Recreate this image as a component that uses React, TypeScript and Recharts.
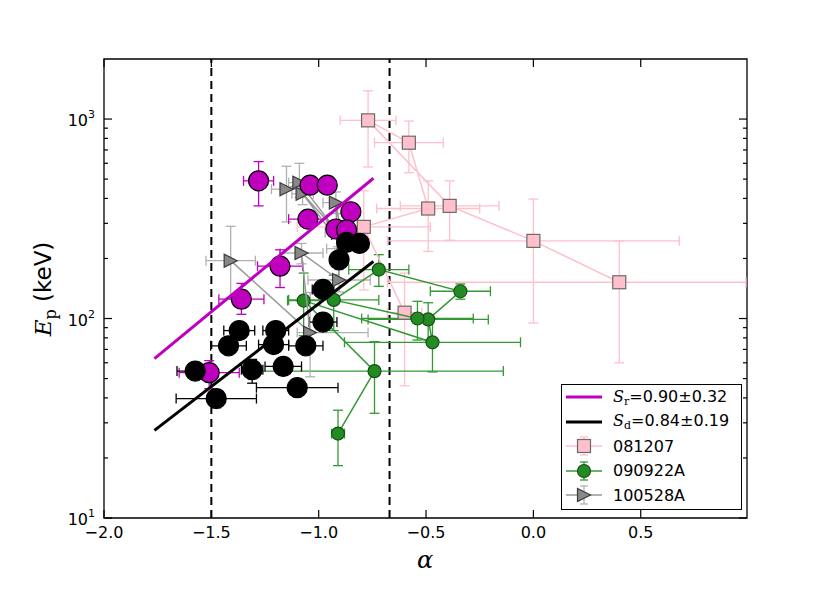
import React from "react";
import {
  ScatterChart,
  Scatter,
  XAxis,
  YAxis,
  ErrorBar,
  ReferenceLine,
  ReferenceArea,
  Legend,
  Label,
} from "recharts";

// GRB 081207 (pink squares), time order
const grb081207Alpha = [-0.6, -0.79, -0.49, -0.58, -0.77, -0.39, 0.0, 0.4];
// last bar runs past the right spine, so it stops at the frame
const grb081207AlphaErr = [0.08, 0.31, 0.24, 0.16, 0.13, 0.23, 0.68, [1.08, 0.59]];
const grb081207Ep = [107, 288, 356, 761, 985, 367, 245, 152];
const grb081207EpErr = [[61, 62], [149, 149], [139, 134], [223, 216], [410, 400], [120, 123], [150, 152], [92, 93]];

// GRB 090922A (green circles)
const grb090922Alpha = [-0.91, -0.74, -1.07, -0.47, -0.49, -0.34, -0.72, -0.93, -0.54];
const grb090922AlphaErr = [0.03, 0.6, 0.075, 0.41, 0.28, 0.14, 0.14, 0.21, 0.26];
const grb090922Ep = [26.5, 54.5, 123, 76, 99, 137, 176, 124, 100];
const grb090922EpErr = [[8.2, 8.2], [21, 22], [41, 46], [22, 24], [21, 21], [12, 12], [31, 33], [37, 41], [22, 22]];

// GRB 100528A (gray triangles)
const grb100528Alpha = [-1.15, -1.09, -0.91, -1.075, -0.883, -0.92, -0.905, -1.08, -1.04, -1.41];
const grb100528AlphaErr = [0.07, 0.05, 0.06, 0.05, 0.08, 0.06, 0.145, 0.1, [0.06, 0.27], 0.115];
const grb100528Ep = [445, 480, 269, 422, 224, 381, 156, 213, 85, 195];
const grb100528EpErr = [[140, 135], [75, 120], [40, 40], [50, 60], [30, 30], [45, 50], [20, 20], [25, 25], [34, 50], [68, 95]];

// S_r sample (magenta)
const srAlpha = [-1.28, -1.04, -0.96, -0.85, -1.05, -0.92, -0.87, -1.18, -1.36, -1.51];
const srAlphaErr = [0.07, 0.04, 0.04, 0.04, 0.09, 0.04, 0.04, 0.105, 0.105, 0.14];
const srEp = [490, 466, 466, 343, 315, 281, 278, 183, 125, 53.5];
const srEpErr = [[123, 122], [40, 40], [40, 40], [30, 30], [30, 30], [25, 25], [25, 25], [40, 38], [20, 25], [9, 8]];

// S_d sample (black)
const sdAlpha = [-0.87, -0.81, -0.905, -0.98, -0.98, -1.37, -1.2, -1.42, -1.21, -1.06, -1.575, -1.31, -1.165, -1.1, -1.477];
const sdAlphaErr = [0.04, 0.04, 0.04, 0.05, 0.065, 0.072, 0.06, 0.083, 0.07, 0.08, 0.085, 0.05, 0.085, 0.19, 0.187];
const sdEp = [241, 238, 197, 140, 96, 87, 87, 73, 74, 73, 54.5, 55.4, 57.5, 45, 39.7];
const sdEpErr = [[20, 20], [20, 20], [15, 15], [12, 12], [8, 8], [7, 7], [7, 7], [6, 6], [6, 6], [6, 6], [5, 5], [8, 7], [5, 5], [4, 4], [4, 4]];

// fitted relations
const srFitAlpha = [-1.765, -0.745];
const srFitEp = [63, 505];
const sdFitAlpha = [-1.765, -0.745];
const sdFitEp = [27.5, 193];

const limitAlpha = [-1.5, -0.67];
const xTicks = [-2, -1.5, -1, -0.5, 0, 0.5];
const yMajorTicks = [10, 100, 1000];
const yMinorTicks = [20, 30, 40, 50, 60, 70, 80, 90, 200, 300, 400, 500, 600, 700, 800, 900];
const X_DOMAIN = [-2, 0.995];
const Y_DOMAIN = [10, 2000];

const PLOT_W = 643;
const PLOT_H = 459;
const SANS = "DejaVu Sans";
const SERIF = "DejaVu Serif";

const points = (xs: number[], xe: any[], ys: number[], ye: any[]) =>
  xs.map((x, i) => ({ x, y: ys[i], ex: xe ? xe[i] : 0, ey: ye ? ye[i] : 0 }));

const pinkData = points(grb081207Alpha, grb081207AlphaErr, grb081207Ep, grb081207EpErr);
const greenData = points(grb090922Alpha, grb090922AlphaErr, grb090922Ep, grb090922EpErr);
const grayData = points(grb100528Alpha, grb100528AlphaErr, grb100528Ep, grb100528EpErr);
const srData = points(srAlpha, srAlphaErr, srEp, srEpErr);
const sdData = points(sdAlpha, sdAlphaErr, sdEp, sdEpErr);
const srFit = srFitAlpha.map((x, i) => ({ x, y: srFitEp[i] }));
const sdFit = sdFitAlpha.map((x, i) => ({ x, y: sdFitEp[i] }));

const MAGENTA = "#bf00bf";
const PINK = "#ffc0cb";
const GREEN_LINE = "#339933";
const GREEN_FILL = "#228b22";
const GRAY_LINE = "#999999";
const GRAY_ERR = "#b0b0b0";

const Circle = (r: number, fill: string, stroke: string) => (p: any) =>
  <circle cx={p.cx} cy={p.cy} r={r} fill={fill} stroke={stroke} strokeWidth={1.2} />;

const Square = (p: any) =>
  <rect x={p.cx - 6.5} y={p.cy - 6.5} width={13} height={13} fill={PINK} stroke="#6a6a6a" strokeWidth={1.2} />;

const TriRight = (p: any) =>
  <polygon
    points={`${p.cx + 6.5},${p.cy} ${p.cx - 6.5},${p.cy - 6.5} ${p.cx - 6.5},${p.cy + 6.5}`}
    fill="#888888"
    stroke="#3a3a3a"
    strokeWidth={1.2}
  />;

const NoShape = () => <g />;

function AlphaTick({ x, y, payload }: any) {
  const v = payload.value;
  const text = (v < 0 ? "\u2212" : "") + Math.abs(v).toFixed(1);
  return (
    <g>
      <line x1={x} y1={y} x2={x} y2={y - 8} stroke="#000" strokeWidth={1.2} />
      <line x1={x} y1={y - PLOT_H} x2={x} y2={y - PLOT_H + 8} stroke="#000" strokeWidth={1.2} />
      <text x={x} y={y + 20} textAnchor="middle" fontFamily={SANS} fontSize={16} fill="#000">
        {text}
      </text>
    </g>
  );
}

function EpTick({ x, y, payload }: any) {
  const v = payload.value;
  const major = yMajorTicks.includes(v);
  const len = major ? 8 : 4;
  return (
    <g>
      <line x1={x} y1={y} x2={x + len} y2={y} stroke="#000" strokeWidth={1.2} />
      <line x1={x + PLOT_W} y1={y} x2={x + PLOT_W - len} y2={y} stroke="#000" strokeWidth={1.2} />
      {major && (
        <text x={x - 9} y={y + 7} textAnchor="end" fontFamily={SANS} fontSize={16} fill="#000">
          10
          <tspan dy={-8} fontSize={11}>
            {Math.round(Math.log10(v))}
          </tspan>
        </text>
      )}
    </g>
  );
}

const YLabel = () => (
  <text transform="translate(51,289) rotate(-90)" textAnchor="middle" fill="#000" fontSize={23} fontFamily={SANS}>
    <tspan fontFamily={SERIF} fontStyle="italic">E</tspan>
    <tspan fontFamily={SERIF} fontSize={16} dy={5}>p</tspan>
    <tspan dy={-5}> (keV)</tspan>
  </text>
);

const XLabel = () => (
  <text x={425} y={568} textAnchor="middle" fill="#000" fontSize={24} fontFamily={SERIF} fontStyle="italic">
    α
  </text>
);

function LegendIcon({ kind }: { kind: string }) {
  if (kind === "sr" || kind === "sd") {
    return (
      <svg width={36} height={24}>
        <line x1={0} y1={12} x2={36} y2={12} stroke={kind === "sr" ? MAGENTA : "#000"} strokeWidth={3} />
      </svg>
    );
  }
  const line = kind === "pink" ? PINK : kind === "green" ? GREEN_LINE : GRAY_LINE;
  const err = kind === "pink" ? PINK : kind === "green" ? GREEN_LINE : GRAY_ERR;
  return (
    <svg width={36} height={24}>
      <line x1={0} y1={12} x2={36} y2={12} stroke={line} strokeWidth={1.5} />
      <line x1={18} y1={3} x2={18} y2={21} stroke={err} strokeWidth={1.3} />
      <line x1={14} y1={3} x2={22} y2={3} stroke={err} strokeWidth={1.3} />
      <line x1={14} y1={21} x2={22} y2={21} stroke={err} strokeWidth={1.3} />
      {kind === "pink" && <Square cx={18} cy={12} />}
      {kind === "green" && Circle(6.5, GREEN_FILL, "#1b4d1b")({ cx: 18, cy: 12 })}
      {kind === "gray" && <TriRight cx={18} cy={12} />}
    </svg>
  );
}

const legendRows = [
  { kind: "sr", sym: "S", sub: "r", text: "=0.90\u00b10.32" },
  { kind: "sd", sym: "S", sub: "d", text: "=0.84\u00b10.19" },
  { kind: "pink", text: "081207" },
  { kind: "green", text: "090922A" },
  { kind: "gray", text: "100528A" },
];

const LegendBox = () => (
  <div
    style={{
      width: 181,
      height: 126,
      boxSizing: "border-box",
      border: "1.3px solid #000",
      background: "#fff",
      fontFamily: SANS,
      fontSize: 16,
      color: "#000",
      paddingLeft: 4,
    }}
  >
    {legendRows.map((r) => (
      <div key={r.kind} style={{ height: 24.5, display: "flex", alignItems: "center" }}>
        <LegendIcon kind={r.kind} />
        <span style={{ marginLeft: 11, whiteSpace: "nowrap" }}>
          {r.sym && <span style={{ fontFamily: SERIF, fontStyle: "italic" }}>{r.sym}</span>}
          {r.sub && <sub style={{ fontFamily: SERIF, fontSize: 11, verticalAlign: "-3px" }}>{r.sub}</sub>}
          {r.text}
        </span>
      </div>
    ))}
  </div>
);

export default function App() {
  return (
    <div style={{ position: "absolute", left: 0, top: 0, width: 830, height: 593, background: "#fff" }}>
      <ScatterChart width={830} height={593} margin={{ top: 59, right: 83, bottom: 45, left: 44 }}>
        <XAxis
          type="number"
          dataKey="x"
          domain={X_DOMAIN}
          allowDataOverflow
          ticks={xTicks}
          interval={0}
          tickSize={0}
          tickMargin={0}
          height={30}
          axisLine={false}
          tick={AlphaTick}
        >
          <Label content={XLabel} />
        </XAxis>
        <YAxis
          type="number"
          dataKey="y"
          scale="log"
          domain={Y_DOMAIN}
          allowDataOverflow
          ticks={[...yMajorTicks, ...yMinorTicks]}
          interval={0}
          tickSize={0}
          tickMargin={0}
          width={60}
          axisLine={false}
          tick={EpTick}
        >
          <Label content={YLabel} />
        </YAxis>
        {limitAlpha.map((a) => (
          <ReferenceLine key={a} x={a} stroke="#000" strokeWidth={2} strokeDasharray="8 5" />
        ))}

        <Scatter data={pinkData} line={{ stroke: PINK, strokeWidth: 1.5 }} shape={Square} isAnimationActive={false}>
          <ErrorBar dataKey="ex" direction="x" width={5} stroke={PINK} strokeWidth={1.3} />
          <ErrorBar dataKey="ey" direction="y" width={5} stroke={PINK} strokeWidth={1.3} />
        </Scatter>
        <Scatter data={greenData} line={{ stroke: GREEN_LINE, strokeWidth: 1.5 }} shape={Circle(6.5, GREEN_FILL, "#1b4d1b")} isAnimationActive={false}>
          <ErrorBar dataKey="ex" direction="x" width={5} stroke={GREEN_LINE} strokeWidth={1.3} />
          <ErrorBar dataKey="ey" direction="y" width={5} stroke={GREEN_LINE} strokeWidth={1.3} />
        </Scatter>
        <Scatter data={grayData} line={{ stroke: GRAY_LINE, strokeWidth: 1.5 }} shape={TriRight} isAnimationActive={false}>
          <ErrorBar dataKey="ex" direction="x" width={5} stroke={GRAY_ERR} strokeWidth={1.3} />
          <ErrorBar dataKey="ey" direction="y" width={5} stroke={GRAY_ERR} strokeWidth={1.3} />
        </Scatter>
        <Scatter data={srData} shape={Circle(10, MAGENTA, "#000")} isAnimationActive={false}>
          <ErrorBar dataKey="ex" direction="x" width={5} stroke={MAGENTA} strokeWidth={1.3} />
          <ErrorBar dataKey="ey" direction="y" width={5} stroke={MAGENTA} strokeWidth={1.3} />
        </Scatter>
        <Scatter data={sdData} shape={Circle(10, "#000", "#000")} isAnimationActive={false}>
          <ErrorBar dataKey="ex" direction="x" width={5} stroke="#000" strokeWidth={1.3} />
          <ErrorBar dataKey="ey" direction="y" width={5} stroke="#000" strokeWidth={1.3} />
        </Scatter>
        <Scatter data={srFit} line={{ stroke: MAGENTA, strokeWidth: 3 }} shape={NoShape} isAnimationActive={false} />
        <Scatter data={sdFit} line={{ stroke: "#000", strokeWidth: 3 }} shape={NoShape} isAnimationActive={false} />

        <ReferenceArea x1={X_DOMAIN[0]} x2={X_DOMAIN[1]} y1={Y_DOMAIN[0]} y2={Y_DOMAIN[1]} fill="none" stroke="#000" strokeWidth={1.3} />

        <Legend
          layout="horizontal"
          verticalAlign="middle"
          align="center"
          content={LegendBox}
          wrapperStyle={{ left: 561, top: 384, width: 181, height: 126 }}
        />
      </ScatterChart>
    </div>
  );
}
